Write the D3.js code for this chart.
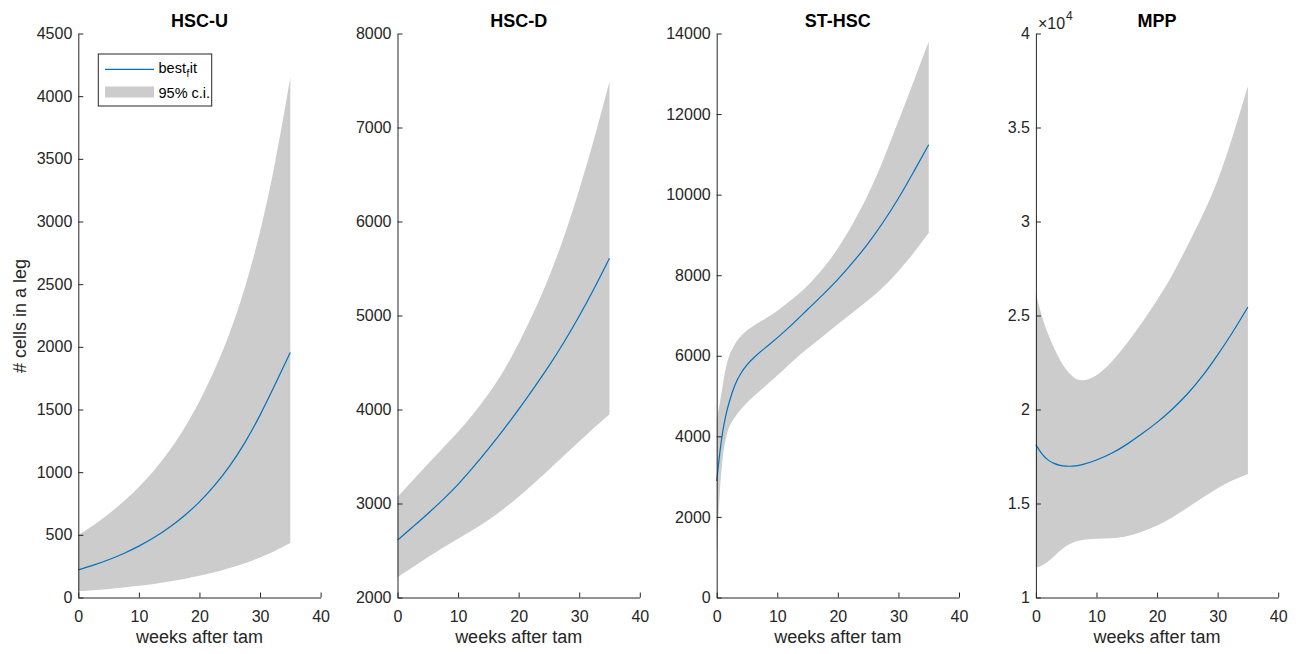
<!DOCTYPE html>
<html>
<head>
<meta charset="utf-8">
<script src="https://cdn.jsdelivr.net/npm/d3@7"></script>
<style>
  html, body { margin: 0; padding: 0; background: #fff; }
  svg { display: block; font-family: "Liberation Sans", Arial, Helvetica, sans-serif; }
</style>
</head>
<body>
<svg id="chart" width="1299" height="654"></svg>
<script>
// ---------- data ----------
const panelTitles = ["HSC-U", "HSC-D", "ST-HSC", "MPP"];

const weeksU = [0, 2.5, 5, 7.5, 10, 12.5, 15, 17.5, 20, 22.5, 25, 27.5, 30, 32.5, 35];
const bestU  = [220, 257, 300, 350, 408, 476, 556, 650, 760, 890, 1045, 1230, 1450, 1700, 1955];
const upperU = [498, 575, 665, 765, 880, 1010, 1165, 1345, 1560, 1810, 2100, 2460, 2900, 3450, 4150];
const lowerU = [50, 58, 68, 80, 93, 108, 127, 148, 172, 200, 234, 272, 319, 372, 435];

const weeksD = [0, 2.5, 5, 7.5, 10, 12.5, 15, 17.5, 20, 22.5, 25, 27.5, 30, 32.5, 35];
const bestD  = [2610, 2750, 2890, 3040, 3200, 3385, 3580, 3785, 4000, 4225, 4460, 4715, 4990, 5290, 5610];
const upperD = [3070, 3245, 3420, 3590, 3760, 3950, 4160, 4400, 4700, 5030, 5400, 5830, 6330, 6880, 7490];
const lowerD = [2215, 2320, 2430, 2530, 2625, 2720, 2820, 2940, 3070, 3210, 3360, 3510, 3660, 3810, 3950];

const weeksS = [0, 0.5, 1, 1.5, 2, 3, 4, 5, 6, 8, 10, 12.5, 15, 17.5, 20, 22.5, 25, 27.5, 30, 32.5, 35];
const bestS  = [2890, 3600, 4150, 4530, 4830, 5300, 5580, 5780, 5940, 6200, 6440, 6780, 7150, 7510, 7890, 8320, 8780, 9310, 9900, 10560, 11240];
const upperS = [4420, 4800, 5270, 5720, 6000, 6300, 6500, 6630, 6740, 6920, 7110, 7400, 7730, 8150, 8640, 9280, 9980, 10850, 11830, 12800, 13800];
const lowerS = [1150, 2680, 3550, 3950, 4250, 4480, 4680, 4840, 4980, 5250, 5500, 5870, 6180, 6480, 6780, 7080, 7370, 7700, 8090, 8540, 9050];

const weeksM = [0, 1, 2, 3, 4, 5, 6, 7.5, 10, 12.5, 15, 17.5, 20, 22.5, 25, 27.5, 30, 32.5, 35];
const bestM  = [18130, 17600, 17300, 17120, 17020, 16980, 16980, 17030, 17300, 17650, 18130, 18700, 19300, 20000, 20800, 21750, 22900, 24100, 25450];
const upperM = [26170, 24900, 24000, 23250, 22600, 22100, 21750, 21450, 21750, 22500, 23500, 24600, 25800, 27100, 28700, 30300, 32100, 34500, 37200];
const lowerM = [11590, 11680, 11900, 12200, 12500, 12750, 12920, 13070, 13130, 13130, 13220, 13500, 13800, 14250, 14770, 15300, 15830, 16250, 16570];

const xTicks = [0, 10, 20, 30, 40];
const yTicksU = [0, 500, 1000, 1500, 2000, 2500, 3000, 3500, 4000, 4500];
const yTicksD = [2000, 3000, 4000, 5000, 6000, 7000, 8000];
const yTicksS = [0, 2000, 4000, 6000, 8000, 10000, 12000, 14000];
const yTicksM = [10000, 15000, 20000, 25000, 30000, 35000, 40000];

const xLabel = "weeks after tam";
const yLabel = "# cells in a leg";
const legendLabels = ["best", "95% c.i."];

// ---------- layout ----------
const panels = [
  { title: panelTitles[0], weeks: weeksU, best: bestU, upper: upperU, lower: lowerU, yDomain: [0, 4500], yTicks: yTicksU, fmt: d => d3.format("d")(d) },
  { title: panelTitles[1], weeks: weeksD, best: bestD, upper: upperD, lower: lowerD, yDomain: [2000, 8000], yTicks: yTicksD, fmt: d => d3.format("d")(d) },
  { title: panelTitles[2], weeks: weeksS, best: bestS, upper: upperS, lower: lowerS, yDomain: [0, 14000], yTicks: yTicksS, fmt: d => d3.format("d")(d) },
  { title: panelTitles[3], weeks: weeksM, best: bestM, upper: upperM, lower: lowerM, yDomain: [10000, 40000], yTicks: yTicksM, fmt: d => { const v = d / 10000; return Number.isInteger(v) ? String(v) : v.toFixed(1); }, exponent: true }
];

const lefts = [78.3, 397.5, 716.7, 1035.9];
const plotW = 242.3;
const plotTop = 33.5, plotBottom = 597.5;
const axisColor = "#262626";
const fillColor = "#cccccc";
const lineColor = "#0072BD";

const svg = d3.select("#chart");

panels.forEach((p, i) => {
  const x0 = lefts[i];
  const g = svg.append("g").attr("transform", `translate(${x0},0)`);
  const x = d3.scaleLinear().domain([0, 40]).range([0, plotW]);
  const y = d3.scaleLinear().domain(p.yDomain).range([plotBottom, plotTop]);

  const rows = p.weeks.map((w, k) => ({ w, b: p.best[k], u: p.upper[k], l: p.lower[k] }));

  const area = d3.area()
    .x(d => x(d.w)).y0(d => y(d.l)).y1(d => y(d.u))
    .curve(d3.curveBasis);
  g.append("path").datum(rows).attr("d", area).attr("fill", fillColor).attr("stroke", "none");

  const line = d3.line().x(d => x(d.w)).y(d => y(d.b)).curve(d3.curveBasis);
  g.append("path").datum(rows).attr("d", line).attr("fill", "none")
    .attr("stroke", lineColor).attr("stroke-width", 1.2);

  // axes
  const yAxis = d3.axisLeft(y).tickValues(p.yTicks).tickFormat(p.fmt)
    .tickSizeInner(-5).tickSizeOuter(0).tickPadding(6);
  const gy = g.append("g").call(yAxis);
  const xAxis = d3.axisBottom(x).tickValues(xTicks).tickFormat(d3.format("d"))
    .tickSizeInner(-5).tickSizeOuter(0).tickPadding(13);
  const gx = g.append("g").attr("transform", `translate(0,${plotBottom})`).call(xAxis);

  [gx, gy].forEach(ax => {
    ax.select(".domain").attr("stroke", axisColor).attr("stroke-width", 1);
    ax.selectAll(".tick line").attr("stroke", axisColor).attr("stroke-width", 1);
    ax.selectAll(".tick text").attr("fill", axisColor).attr("font-size", 16)
      .attr("font-family", "Liberation Sans, Arial, sans-serif");
  });

  // title
  g.append("text").attr("x", plotW / 2).attr("y", 26.5).attr("text-anchor", "middle")
    .attr("font-size", 18).attr("font-weight", "bold").attr("fill", "#000").text(p.title);

  // x label
  g.append("text").attr("x", plotW / 2).attr("y", 643).attr("text-anchor", "middle")
    .attr("font-size", 18).attr("fill", axisColor).text(xLabel);

  if (p.exponent) {
    const t = g.append("text").attr("x", 2).attr("y", 28.5).attr("font-size", 16).attr("fill", axisColor);
    t.append("tspan").text("\u00D710");
    t.append("tspan").attr("font-size", 12).attr("dx", 1).attr("dy", -9).text("4");
  }

  if (i === 0) {
    // y label
    g.append("text").attr("transform", `translate(${26 - x0},316) rotate(-90)`)
      .attr("text-anchor", "middle").attr("font-size", 18).attr("fill", axisColor).text(yLabel);

    // legend
    const lg = svg.append("g");
    lg.append("rect").attr("x", 98.3).attr("y", 54).attr("width", 113.4).attr("height", 52)
      .attr("fill", "#fff").attr("stroke", axisColor).attr("stroke-width", 1);
    lg.append("line").attr("x1", 105).attr("x2", 154).attr("y1", 69.3).attr("y2", 69.3)
      .attr("stroke", lineColor).attr("stroke-width", 1.2);
    lg.append("rect").attr("x", 105).attr("y", 86.5).attr("width", 49).attr("height", 11)
      .attr("fill", fillColor);
    const t1 = lg.append("text").attr("x", 158.5).attr("y", 72.5).attr("font-size", 14.5).attr("fill", "#000");
    t1.append("tspan").text(legendLabels[0]);
    t1.append("tspan").attr("font-size", 10).attr("dx", 0.5).attr("dy", 4).text("f");
    t1.append("tspan").attr("dx", 0.5).attr("dy", -4).text("it");
    lg.append("text").attr("x", 158.5).attr("y", 97.5).attr("font-size", 14.5).attr("fill", "#000")
      .text(legendLabels[1]);
  }
});
</script>
</body>
</html>
